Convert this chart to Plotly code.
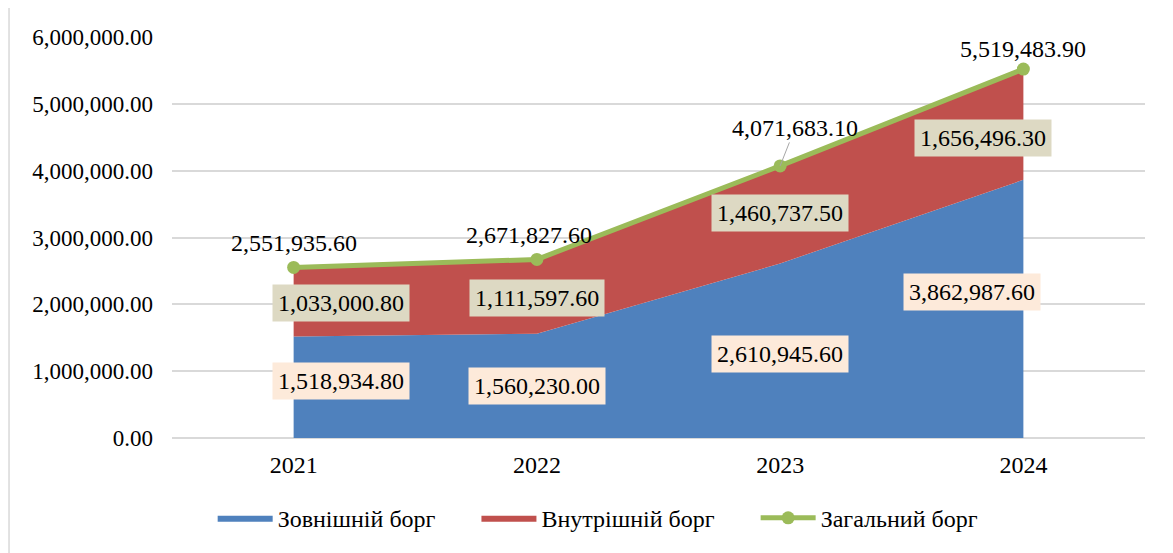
import plotly.graph_objects as go

years = ["2021", "2022", "2023", "2024"]
external = [1518934.80, 1560230.00, 2610945.60, 3862987.60]
internal = [1033000.80, 1111597.60, 1460737.50, 1656496.30]
total = [2551935.60, 2671827.60, 4071683.10, 5519483.90]
names = ["Зовнішній борг", "Внутрішній борг", "Загальний борг"]
yticks = [0, 1000000, 2000000, 3000000, 4000000, 5000000, 6000000]

FONT = "Liberation Serif, Times New Roman, serif"
BLUE = "#4F81BD"
RED = "#C0504D"
GREEN = "#9BBB59"

xs = list(range(len(years)))

fig = go.Figure()
fig.add_trace(go.Scatter(x=xs, y=external, name=names[0] + "      ", stackgroup="a",
                         mode="lines", line=dict(width=0, color=BLUE),
                         fillcolor=BLUE))
fig.add_trace(go.Scatter(x=xs, y=internal, name=names[1] + "      ", stackgroup="a",
                         mode="lines", line=dict(width=0, color=RED),
                         fillcolor=RED))
fig.add_trace(go.Scatter(x=xs, y=total, name=names[2], mode="lines+markers",
                         line=dict(width=5, color=GREEN),
                         marker=dict(size=13, color=GREEN)))

LBL = 24
ann = []
ext_shift = [(47, 6), (0, 0), (0, -3), (-51, 17)]
int_shift = [(47, -1), (0, -1), (0, 2), (-40, -14)]
tot_shift = [(0, 24), (-8, 24), (0, 0), (0, 20)]
for i in xs:
    ann.append(dict(x=i, y=external[i] / 2, text=f"{external[i]:,.2f}",
                    xshift=ext_shift[i][0], yshift=ext_shift[i][1],
                    showarrow=False, bgcolor="#FDEADA", borderpad=5,
                    font=dict(family=FONT, size=LBL, color="black")))
    ann.append(dict(x=i, y=external[i] + internal[i] / 2, text=f"{internal[i]:,.2f}",
                    xshift=int_shift[i][0], yshift=int_shift[i][1],
                    showarrow=False, bgcolor="#DDD9C3", borderpad=5,
                    font=dict(family=FONT, size=LBL, color="black")))
    if i == 2:
        ann.append(dict(x=i, y=total[i], text=f"{total[i]:,.2f}",
                        showarrow=True, arrowhead=0, arrowwidth=1,
                        arrowcolor="#A6A6A6", ax=15, ay=-38,
                        font=dict(family=FONT, size=LBL, color="black")))
    else:
        ann.append(dict(x=i, y=total[i], text=f"{total[i]:,.2f}",
                        xshift=tot_shift[i][0], yshift=tot_shift[i][1],
                        showarrow=False,
                        font=dict(family=FONT, size=LBL, color="black")))

fig.update_layout(
    width=1165, height=545,
    margin=dict(l=164, r=28, t=29, b=111),
    paper_bgcolor="white", plot_bgcolor="white",
    font=dict(family=FONT, size=24, color="black"),
    showlegend=True,
    legend=dict(orientation="h", x=0.438, xanchor="center", y=-0.2,
                yanchor="middle", font=dict(family=FONT, size=24),
                itemwidth=55, traceorder="normal"),
    annotations=ann,
    shapes=[dict(type="rect", xref="paper", yref="paper",
                 x0=-0.1675, x1=1.05, y0=-0.35, y1=1.0744,
                 line=dict(color="#D9D9D9", width=1.5), layer="below")],
)
fig.update_xaxes(tickmode="array", tickvals=xs, ticktext=years,
                 range=[-0.5, 3.5], showgrid=False, zeroline=False,
                 showline=False, ticks="", ticklabelstandoff=10,
                 tickfont=dict(family=FONT, size=24))
fig.update_yaxes(range=[0, 6000000], tickvals=yticks, tickformat=",.2f",
                 showgrid=True, gridcolor="#D9D9D9", gridwidth=1.5,
                 zeroline=True, zerolinecolor="#D9D9D9", zerolinewidth=1.5,
                 showline=False, ticks="", ticklabelstandoff=18,
                 tickfont=dict(family=FONT, size=23))

fig.write_html("out.html")
